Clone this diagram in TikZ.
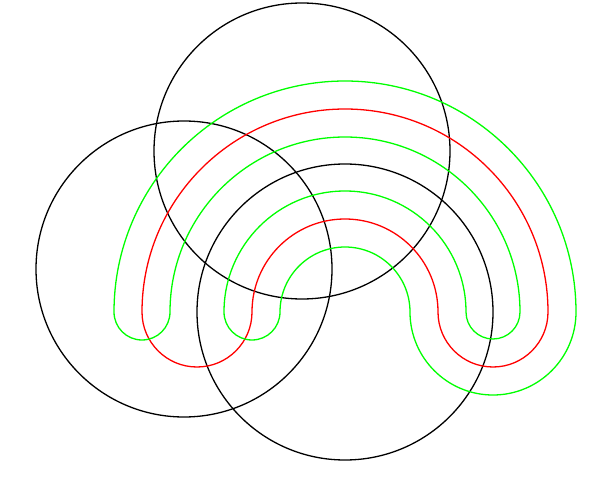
\documentclass[tikz,border=0pt]{standalone}
\begin{document}
\begin{tikzpicture}[x=1pt,y=1pt,
  circ/.style={draw=black,line width=1.3pt},
  redband/.style={draw={rgb,255:red,255;green,0;blue,0},line width=1.3pt},
  greenband/.style={draw={rgb,255:red,0;green,255;blue,0},line width=1.3pt}]
\useasboundingbox (0,0) rectangle (600,480);
% circles (image y converted: y = 480 - y_img)
\node[circ,circle,minimum size=296pt,inner sep=0pt] (ctop) at (302,329) {};
\node[circ,circle,minimum size=296pt,inner sep=0pt] (cleft) at (184,211) {};
\node[circ,circle,minimum size=296pt,inner sep=0pt] (cright) at (345,168) {};
% red curve
\coordinate (r0) at (142,168);
\draw[redband] (r0) arc[start angle=180,end angle=0,radius=203]
  arc[start angle=0,end angle=-180,radius=55]
  arc[start angle=0,end angle=180,radius=93]
  arc[start angle=0,end angle=-180,radius=55] -- cycle;
% green curve
\coordinate (g0) at (114,168);
\draw[greenband] (g0) arc[start angle=180,end angle=0,radius=231]
  arc[start angle=0,end angle=-180,radius=83]
  arc[start angle=0,end angle=180,radius=65]
  arc[start angle=0,end angle=-180,radius=28]
  arc[start angle=180,end angle=0,radius=121]
  arc[start angle=180,end angle=360,radius=27]
  arc[start angle=0,end angle=180,radius=175]
  arc[start angle=0,end angle=-180,radius=28] -- cycle;
\end{tikzpicture}
\end{document}
